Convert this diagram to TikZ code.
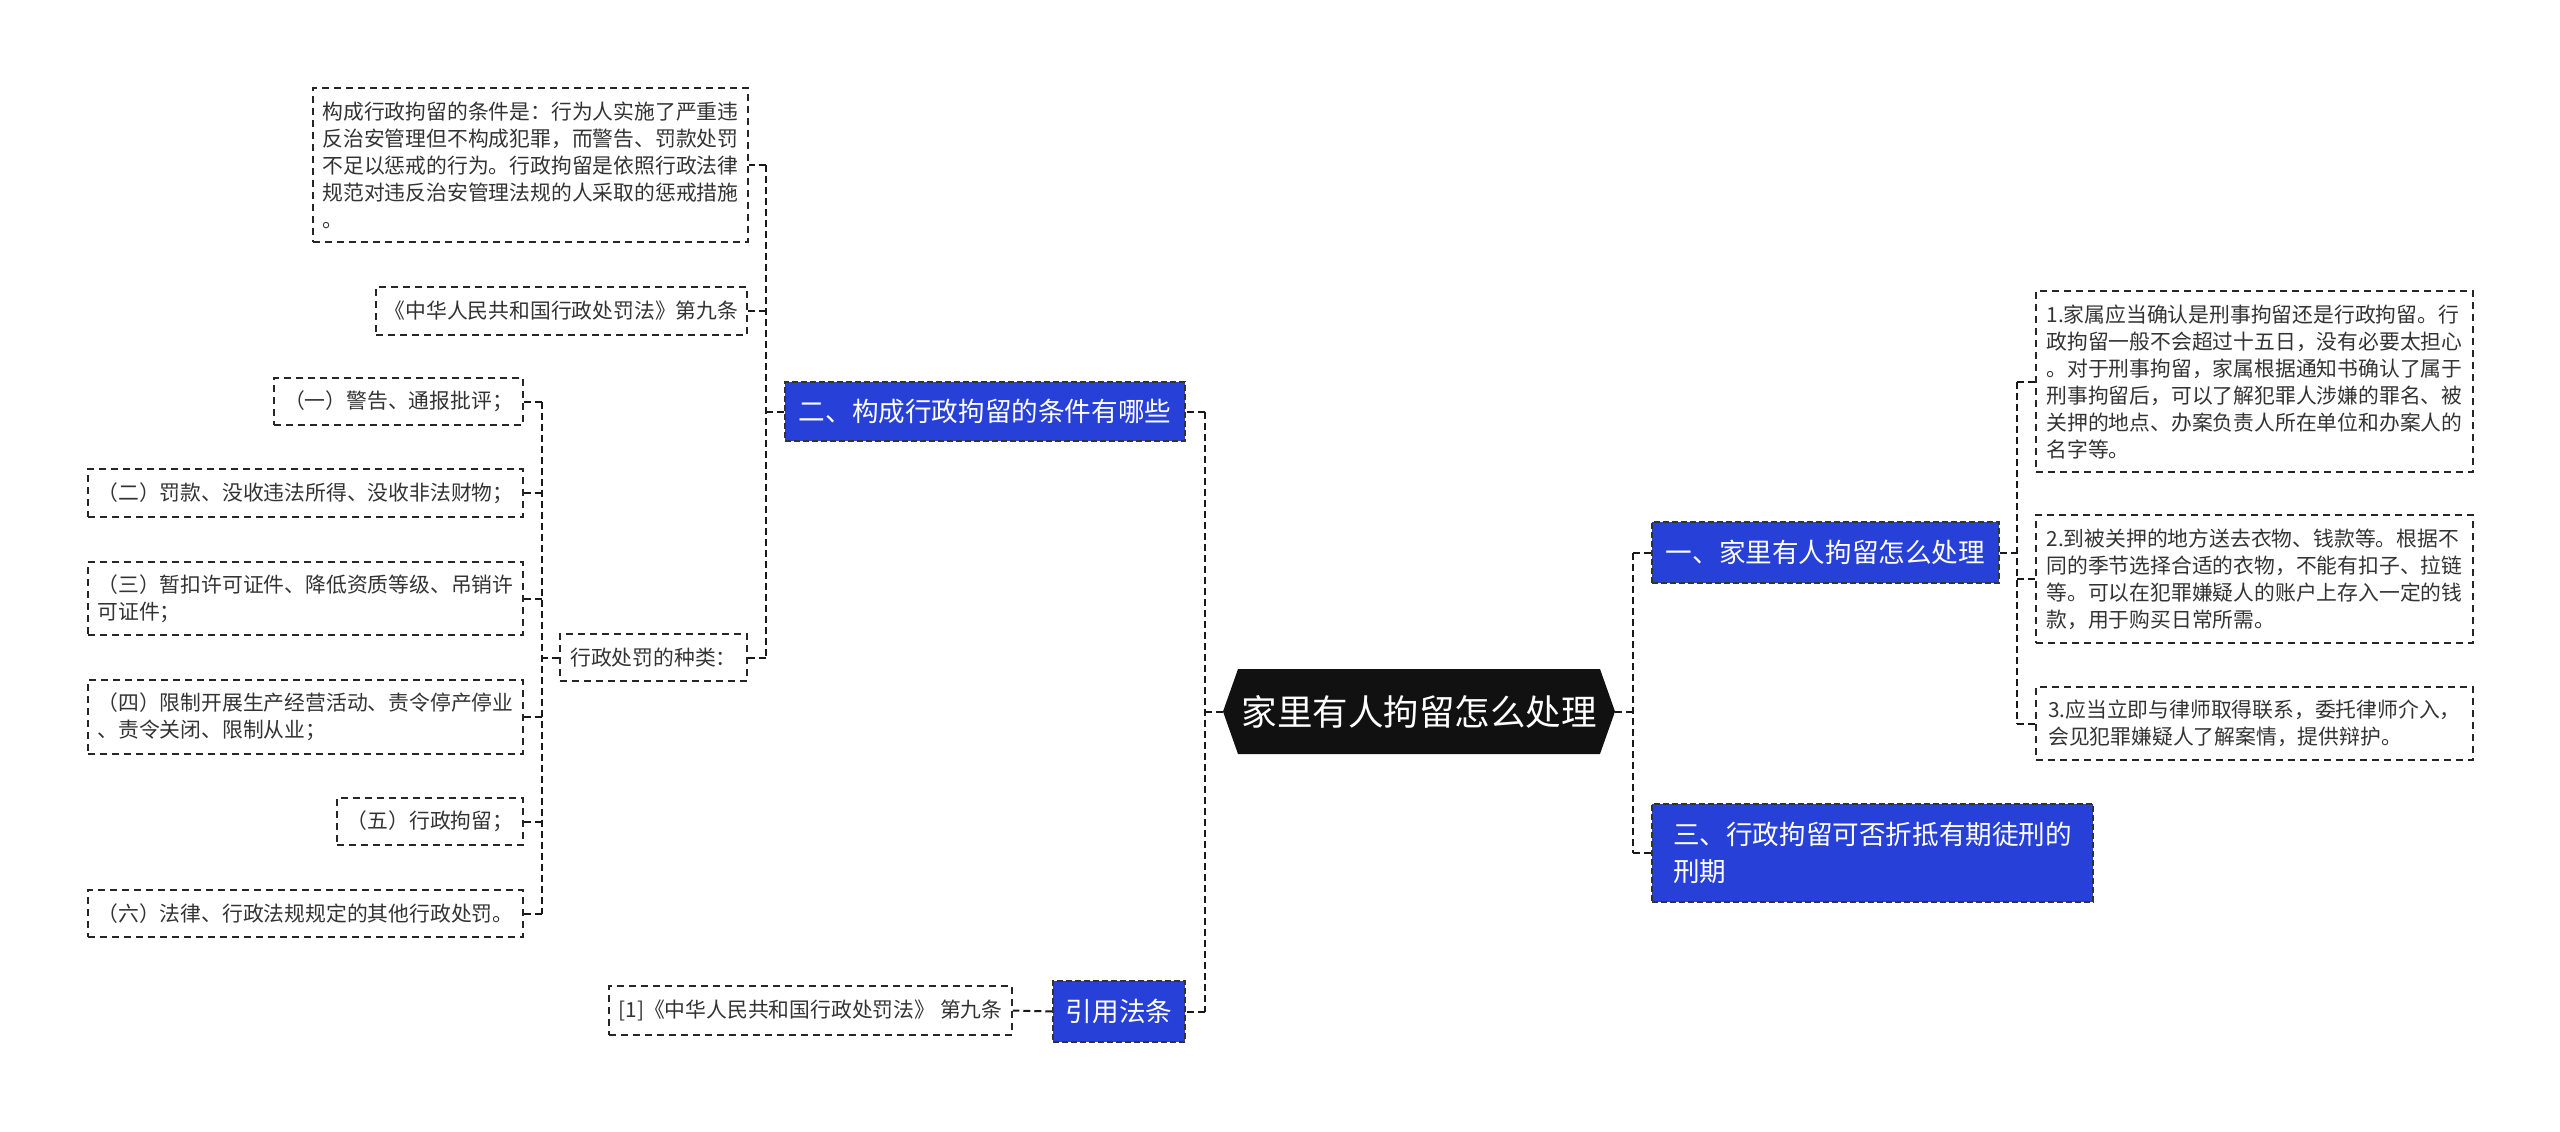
\documentclass[tikz,border=0pt]{standalone}
\usepackage{fontspec}
\setmainfont{Noto Sans CJK SC}
\definecolor{nodeblue}{HTML}{2640D8}
\definecolor{rootfill}{HTML}{111111}
\definecolor{leaftext}{HTML}{333333}
\begin{document}
\begin{tikzpicture}[x=1pt,y=-1pt,
  leaf/.style={draw=black!85, line width=1.5pt, dash pattern=on 7pt off 5pt,
    inner sep=0pt, align=left, text=leaftext, font=\fontsize{20.8}{27}\selectfont},
  topic/.style={fill=nodeblue, draw=black!80, line width=1.5pt, dash pattern=on 6pt off 3pt,
    inner sep=0pt, align=left, text=white, font=\fontsize{26.6}{37}\selectfont},
  rootbox/.style={inner sep=0pt, text=white, font=\fontsize{35.5}{40}\selectfont,
    minimum width=392pt, minimum height=85pt},
  conn/.style={line width=2pt, dash pattern=on 7pt off 4pt, black!90}]
\useasboundingbox (0,0) rectangle (2560,1132);

% root
\coordinate (rc) at (1419,711.5);
\fill[rootfill] ([shift={(-196,0)}]rc) -- ([shift={(-181,-42.5)}]rc) -- ([shift={(181,-42.5)}]rc)
  -- ([shift={(196,0)}]rc) -- ([shift={(181,42.5)}]rc) -- ([shift={(-181,42.5)}]rc) -- cycle;
\node[rootbox] (root) at (rc) {家里有人拘留怎么处理};

% main topics
\node[topic, minimum width=400pt, minimum height=59pt] (n2) at (985,411.5) {二、构成行政拘留的条件有哪些};
\node[topic, minimum width=132pt, minimum height=61pt] (n4) at (1119,1011.5) {引用法条};
\node[topic, minimum width=347pt, minimum height=61pt] (n1) at (1825.5,552.5) {一、家里有人拘留怎么处理};
\node[topic, minimum width=441pt, minimum height=98pt] (n3) at (1872.5,853) {三、行政拘留可否折抵有期徒刑的\\刑期};

% children of n2
\node[leaf, minimum width=435pt, minimum height=154pt] (b1) at (530.5,165) {构成行政拘留的条件是：行为人实施了严重违\\反治安管理但不构成犯罪，而警告、罚款处罚\\不足以惩戒的行为。行政拘留是依照行政法律\\规范对违反治安管理法规的人采取的惩戒措施\\。};
\node[leaf, minimum width=371pt, minimum height=48pt] (b2) at (561.5,311) {《中华人民共和国行政处罚法》第九条};
\node[leaf, minimum width=187pt, minimum height=47pt] (kind) at (653.5,657.5) {行政处罚的种类：};

% kinds
\node[leaf, minimum width=249pt, minimum height=47pt] (k1) at (398.5,401.5) {（一）警告、通报批评；};
\node[leaf, minimum width=435pt, minimum height=48pt] (k2) at (305.5,493) {（二）罚款、没收违法所得、没收非法财物；};
\node[leaf, minimum width=435pt, minimum height=73pt] (k3) at (305.5,598.5) {（三）暂扣许可证件、降低资质等级、吊销许\\可证件；};
\node[leaf, minimum width=435pt, minimum height=74pt] (k4) at (305.5,717) {（四）限制开展生产经营活动、责令停产停业\\、责令关闭、限制从业；};
\node[leaf, minimum width=186pt, minimum height=47pt] (k5) at (430,821.5) {（五）行政拘留；};
\node[leaf, minimum width=435pt, minimum height=47pt] (k6) at (305.5,913.5) {（六）法律、行政法规规定的其他行政处罚。};

% reference
\node[leaf, minimum width=403pt, minimum height=49pt] (ref) at (810.5,1010.5) {[1]《中华人民共和国行政处罚法》 第九条};

% details of n1
\node[leaf, minimum width=437pt, minimum height=181pt] (d1) at (2254.5,381.5) {1.家属应当确认是刑事拘留还是行政拘留。行\\政拘留一般不会超过十五日，没有必要太担心\\。对于刑事拘留，家属根据通知书确认了属于\\刑事拘留后，可以了解犯罪人涉嫌的罪名、被\\关押的地点、办案负责人所在单位和办案人的\\名字等。};
\node[leaf, minimum width=437pt, minimum height=128pt] (d2) at (2254.5,579) {2.到被关押的地方送去衣物、钱款等。根据不\\同的季节选择合适的衣物，不能有扣子、拉链\\等。可以在犯罪嫌疑人的账户上存入一定的钱\\款，用于购买日常所需。};
\node[leaf, minimum width=437pt, minimum height=73pt] (d3) at (2254.5,723.5) {3.应当立即与律师取得联系，委托律师介入，\\会见犯罪嫌疑人了解案情，提供辩护。};

% connectors: root left
\coordinate (jL) at (1205,711.5);
\draw[conn] (root.west) -- (jL);
\draw[conn] (jL |- n2.east) -- (jL |- n4.east);
\draw[conn] (jL |- n2.east) -- (n2.east);
\draw[conn] (jL |- n4.east) -- (n4.east);
% root right
\coordinate (jR) at (1633,711.5);
\draw[conn] (root.east) -- (jR);
\draw[conn] (jR |- n1.west) -- (jR |- n3.west);
\draw[conn] (jR |- n1.west) -- (n1.west);
\draw[conn] (jR |- n3.west) -- (n3.west);
% n2 children
\coordinate (j2) at (766,411.5);
\draw[conn] (n2.west) -- (j2);
\draw[conn] (j2 |- b1.east) -- (j2 |- kind.east);
\draw[conn] (j2 |- b1.east) -- (b1.east);
\draw[conn] (j2 |- b2.east) -- (b2.east);
\draw[conn] (j2 |- kind.east) -- (kind.east);
% kinds
\coordinate (jk) at (542,657.5);
\draw[conn] (kind.west) -- (jk);
\draw[conn] (jk |- k1.east) -- (jk |- k6.east);
\foreach \k in {k1,k2,k3,k4,k5,k6} {\draw[conn] (jk |- \k.east) -- (\k.east);}
% reference
\draw[conn] (n4.west) -- (ref.east);
% n1 details
\coordinate (j1) at (2017,552.5);
\draw[conn] (n1.east) -- (j1);
\draw[conn] (j1 |- d1.west) -- (j1 |- d3.west);
\foreach \d in {d1,d2,d3} {\draw[conn] (j1 |- \d.west) -- (\d.west);}
\end{tikzpicture}
\end{document}
